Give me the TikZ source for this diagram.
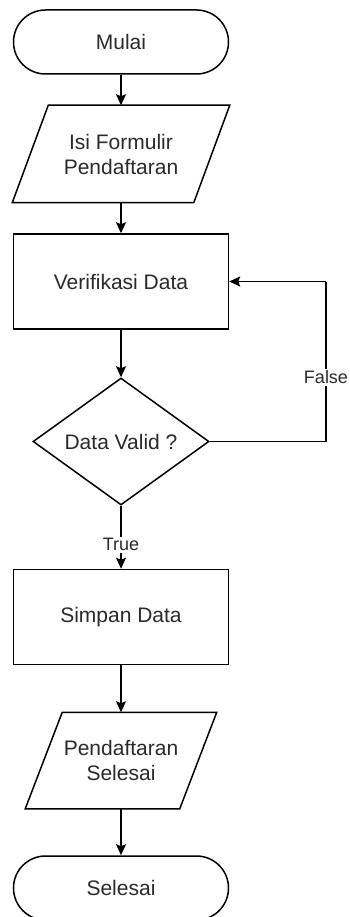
\documentclass[tikz,border=0pt]{standalone}
\usepackage{fontspec}
\setmainfont{Liberation Sans}
\usetikzlibrary{shapes.geometric,arrows.meta,calc}
\definecolor{txt}{HTML}{2A2A2A}
\tikzset{
  base/.style={line width=1.5pt, draw=black, text=txt, font=\fontsize{21}{25}\selectfont, align=center, inner sep=0pt},
  term/.style={base, rectangle, rounded corners=32pt, minimum width=215pt, minimum height=64pt},
  procbox/.style={base, rectangle, minimum width=215pt, minimum height=95pt},
  iobox/.style={base, draw=none, rectangle, minimum height=96pt},
  decbox/.style={base, diamond, aspect=1.4, minimum width=176pt, minimum height=127pt},
  conn/.style={line width=1.5pt, -{Stealth[length=11pt,width=10pt,inset=2pt]}},
  lbl/.style={fill=white, text=txt, font=\fontsize{18}{21}\selectfont, inner sep=2pt}
}
\begin{document}
\begin{tikzpicture}[x=1pt,y=-1pt]
\useasboundingbox (0,0) rectangle (350,917);
\fill[white] (0,0) rectangle (350,917);
\node[term] (mulai) at (121,42) {Mulai};
\node[iobox, minimum width=180pt] (isi) at (121,154) {Isi Formulir\\Pendaftaran};
\draw[line width=1.5pt] ($(isi.north west)+(18,0)$) -- ($(isi.north east)+(18,0)$) -- ($(isi.south east)+(-18,0)$) -- ($(isi.south west)+(-18,0)$) -- cycle;
\node[procbox] (verif) at (121,281.5) {Verifikasi Data};
\node[decbox] (valid) at (121,441.5) {Data Valid ?};
\node[procbox] (simpan) at (121,617) {Simpan Data};
\node[iobox, minimum width=153pt, minimum height=95pt] (selesaiio) at (121,760.5) {Pendaftaran\\Selesai};
\draw[line width=1.5pt] ($(selesaiio.north west)+(18.5,0)$) -- ($(selesaiio.north east)+(18.5,0)$) -- ($(selesaiio.south east)+(-18.5,0)$) -- ($(selesaiio.south west)+(-18.5,0)$) -- cycle;
\node[term] (selesai) at (121,888) {Selesai};
\coordinate (f1) at (326,441.5);
\coordinate (f2) at (326,281.5);
\draw[conn] (mulai.south) -- (isi.north);
\draw[conn] (isi.south) -- (verif.north);
\draw[conn] (verif.south) -- (valid.north);
\draw[conn] (valid.south) -- node[lbl, pos=0.62] {True} (simpan.north);
\draw[line width=1.5pt] (valid.east) -- (f1) -- (f2);
\draw[conn] (f2) -- (verif.east);
\node[lbl] (falselbl) at ($(f1)!0.4!(f2)$) {False};
\draw[conn] (simpan.south) -- (selesaiio.north);
\draw[conn] (selesaiio.south) -- (selesai.north);
\end{tikzpicture}
\end{document}
